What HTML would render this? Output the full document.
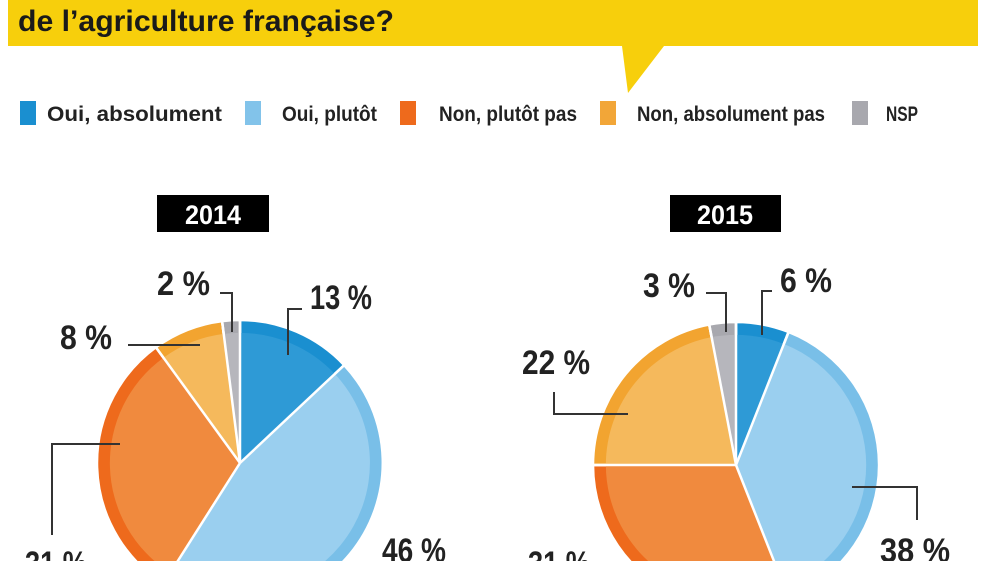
<!DOCTYPE html>
<html><head><meta charset="utf-8"><style>
html,body{margin:0;padding:0;background:#fff;width:1000px;height:561px;overflow:hidden}
svg{display:block}
text{font-family:"Liberation Sans Narrow","Liberation Sans",sans-serif;font-weight:bold}
</style></head><body>
<svg width="1000" height="561" viewBox="0 0 1000 561" xmlns="http://www.w3.org/2000/svg">
<rect x="0" y="0" width="1000" height="561" fill="#fff"/>
<path d="M8 0H978V46H664L628 93L622 46H8Z" fill="#f7cf0c"/>
<text x="18" y="31" font-size="30" fill="#1a1a1a" textLength="376" lengthAdjust="spacingAndGlyphs">de l’agriculture française?</text>
<g font-size="21" fill="#222">
<rect x="20" y="101" width="16" height="24" fill="#1a8fd0"/>
<text x="47" y="121" textLength="175" lengthAdjust="spacingAndGlyphs">Oui, absolument</text>
<rect x="245" y="101" width="16" height="24" fill="#82c3ea"/>
<text x="282" y="121" textLength="95" lengthAdjust="spacingAndGlyphs">Oui, plutôt</text>
<rect x="400" y="101" width="16" height="24" fill="#ee6a1c"/>
<text x="439" y="121" textLength="138" lengthAdjust="spacingAndGlyphs">Non, plutôt pas</text>
<rect x="600" y="101" width="16" height="24" fill="#f2a638"/>
<text x="637" y="121" textLength="188" lengthAdjust="spacingAndGlyphs">Non, absolument pas</text>
<rect x="852" y="101" width="16" height="24" fill="#a8a8ae"/>
<text x="886" y="121" textLength="32" lengthAdjust="spacingAndGlyphs">NSP</text>
</g>
<rect x="157" y="195" width="112" height="37" fill="#000"/>
<text x="213" y="224" font-size="27" fill="#fff" text-anchor="middle" textLength="56" lengthAdjust="spacingAndGlyphs">2014</text>
<rect x="670" y="195" width="111" height="37" fill="#000"/>
<text x="725" y="224" font-size="27" fill="#fff" text-anchor="middle" textLength="56" lengthAdjust="spacingAndGlyphs">2015</text>

<!-- Pie 2014 -->
<g stroke="#fff" stroke-width="2.5" stroke-linejoin="round">
<path d="M240 463L240 320A143 143 0 0 1 344.2 365.1Z" fill="#1a8fd0"/>
<path d="M240 463L344.2 365.1A143 143 0 0 1 163.4 583.7Z" fill="#79bfe8"/>
<path d="M240 463L163.4 583.7A143 143 0 0 1 155.9 347.3Z" fill="#ee6a1c"/>
<path d="M240 463L155.9 347.3A143 143 0 0 1 222.1 321.1Z" fill="#f2a430"/>
<path d="M240 463L222.1 321.1A143 143 0 0 1 240 320Z" fill="#a8a8ae"/>
</g>
<g transform="translate(240 463) scale(0.91) translate(-240 -463)">
<path d="M240 463L240 320A143 143 0 0 1 344.2 365.1Z" fill="#2e9ad6"/>
<path d="M240 463L344.2 365.1A143 143 0 0 1 163.4 583.7Z" fill="#9acfef"/>
<path d="M240 463L163.4 583.7A143 143 0 0 1 155.9 347.3Z" fill="#f08a3e"/>
<path d="M240 463L155.9 347.3A143 143 0 0 1 222.1 321.1Z" fill="#f5b95c"/>
<path d="M240 463L222.1 321.1A143 143 0 0 1 240 320Z" fill="#b6b6bc"/>
</g>
<g stroke="#fff" stroke-width="2.5">
<line x1="240" y1="463" x2="240" y2="320"/><line x1="240" y1="463" x2="344.2" y2="365.1"/><line x1="240" y1="463" x2="163.4" y2="583.7"/><line x1="240" y1="463" x2="155.9" y2="347.3"/><line x1="240" y1="463" x2="222.1" y2="321.1"/>
</g>

<!-- Pie 2015 -->
<g stroke="#fff" stroke-width="2.5" stroke-linejoin="round">
<path d="M736 465L736 322A143 143 0 0 1 788.6 332Z" fill="#1a8fd0"/>
<path d="M736 465L788.6 332A143 143 0 0 1 788.6 598Z" fill="#79bfe8"/>
<path d="M736 465L788.6 598A143 143 0 0 1 593 465Z" fill="#ee6a1c"/>
<path d="M736 465L593 465A143 143 0 0 1 709.2 324.5Z" fill="#f2a430"/>
<path d="M736 465L709.2 324.5A143 143 0 0 1 736 322Z" fill="#a8a8ae"/>
</g>
<g transform="translate(736 465) scale(0.91) translate(-736 -465)">
<path d="M736 465L736 322A143 143 0 0 1 788.6 332Z" fill="#2e9ad6"/>
<path d="M736 465L788.6 332A143 143 0 0 1 788.6 598Z" fill="#9acfef"/>
<path d="M736 465L788.6 598A143 143 0 0 1 593 465Z" fill="#f08a3e"/>
<path d="M736 465L593 465A143 143 0 0 1 709.2 324.5Z" fill="#f5b95c"/>
<path d="M736 465L709.2 324.5A143 143 0 0 1 736 322Z" fill="#b6b6bc"/>
</g>
<g stroke="#fff" stroke-width="2.5">
<line x1="736" y1="465" x2="736" y2="322"/><line x1="736" y1="465" x2="788.6" y2="332"/><line x1="736" y1="465" x2="788.6" y2="598"/><line x1="736" y1="465" x2="593" y2="465"/><line x1="736" y1="465" x2="709.2" y2="324.5"/>
</g>

<!-- leaders -->
<g fill="none" stroke="#333" stroke-width="2">
<polyline points="288,355 288,309 302,309"/>
<polyline points="220,293 232,293 232,332"/>
<polyline points="128,345 200,345"/>
<polyline points="120,444 52,444 52,535"/>
<polyline points="706,293 726,293 726,332"/>
<polyline points="762,335 762,291 772,291"/>
<polyline points="628,414 554,414 554,392"/>
<polyline points="852,487 917,487 917,520"/>
</g>
<g font-size="34" fill="#222" font-weight="bold">
<text x="157" y="295" textLength="53" lengthAdjust="spacingAndGlyphs">2 %</text>
<text x="310" y="309" textLength="62" lengthAdjust="spacingAndGlyphs">13 %</text>
<text x="60" y="349" textLength="52" lengthAdjust="spacingAndGlyphs">8 %</text>
<text x="382" y="562" textLength="64" lengthAdjust="spacingAndGlyphs">46 %</text>
<text x="25" y="575" textLength="62" lengthAdjust="spacingAndGlyphs">31 %</text>
<text x="643" y="297" textLength="52" lengthAdjust="spacingAndGlyphs">3 %</text>
<text x="780" y="292" textLength="52" lengthAdjust="spacingAndGlyphs">6 %</text>
<text x="522" y="374" textLength="68" lengthAdjust="spacingAndGlyphs">22 %</text>
<text x="880" y="562" textLength="70" lengthAdjust="spacingAndGlyphs">38 %</text>
<text x="528" y="575" textLength="62" lengthAdjust="spacingAndGlyphs">31 %</text>
</g>
</svg>
</body></html>
